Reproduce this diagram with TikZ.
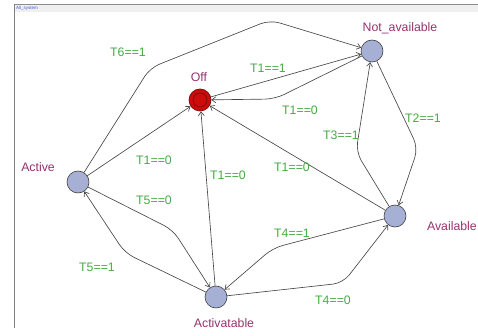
\documentclass[tikz,border=0pt]{standalone}
\usepackage{fontspec}
\setmainfont{Liberation Sans}
\usetikzlibrary{arrows.meta}
\definecolor{locfill}{RGB}{166,176,212}
\definecolor{locname}{RGB}{150,50,110}
\definecolor{guard}{RGB}{70,170,70}
\definecolor{offred}{RGB}{205,12,12}
\definecolor{offdark}{RGB}{120,10,10}
\definecolor{barblue}{RGB}{60,90,220}
\begin{document}
\begin{tikzpicture}[x=1pt,y=-1pt,
  loc/.style={circle,draw=black!75,fill=locfill,minimum size=22pt,inner sep=0pt,line width=0.6pt},
  offloc/.style={circle,draw=offdark,fill=offred,minimum size=22pt,inner sep=0pt,line width=0.7pt},
  lname/.style={text=locname,font=\fontsize{12.3}{14}\selectfont,inner sep=0pt},
  grd/.style={text=guard,font=\fontsize{12.3}{14}\selectfont,inner sep=0pt},
  edge/.style={draw=black!72,line width=0.65pt,rounded corners=10pt,-{Straight Barb[length=4pt,width=6pt]}}]
\useasboundingbox (0,0) rectangle (478,336);
% window frame
\fill[black!6] (14,4) rectangle (478,12);
\draw[black!45,line width=0.8pt] (14,4) -- (478,4);
\draw[black!50,line width=0.6pt] (14,4) -- (14,328);
\node[anchor=west,text=barblue,font=\fontsize{4.5}{5}\selectfont,inner sep=0pt] (title) at (16,8) {All\_system};
% locations
\node[offloc] (off) at (200,100) {};
\draw[offdark,line width=0.6pt] (off.center) circle[radius=7pt];
\node[loc] (notav) at (372,51) {};
\node[loc] (active) at (78,182) {};
\node[loc] (activ) at (216,297) {};
\node[loc] (avail) at (395,216) {};
% location names
\node[lname] (offn) at (199,77) {Off};
\node[lname] (notavn) at (400,28) {Not\_available};
\node[lname] (activen) at (38,167) {Active};
\node[lname] (activn) at (224,323) {Activatable};
\node[lname,anchor=east] (availn) at (477,226) {Available};
% edges
\draw[edge] (active) -- (150,68) -- (270,20) -- (notav);
\draw[edge] (off) -- (notav);
\draw[edge] (notav) -- (275,99) -- (off);
\draw[edge] (active) -- (off);
\draw[edge] (activ) -- (off);
\draw[edge] (avail) -- (off);
\draw[edge] (notav) -- (418,148) -- (avail);
\draw[edge] (avail) -- (356,152) -- (notav);
\draw[edge] (active) -- (173,230) -- (activ);
\draw[edge] (activ) -- (125,253) -- (active);
\draw[edge] (activ) -- (343,283) -- (avail);
\draw[edge] (avail) -- (273,248) -- (activ);
% guards
\node[grd] (g1) at (128,52) {T6==1};
\node[grd] (g2) at (268,68) {T1==1};
\node[grd] (g3) at (300,110) {T1==0};
\node[grd] (g4) at (423,118) {T2==1};
\node[grd] (g5) at (341,135) {T3==1};
\node[grd] (g6) at (154,160) {T1==0};
\node[grd] (g7) at (154,200) {T5==0};
\node[grd] (g8) at (97,267) {T5==1};
\node[grd] (g9) at (228,175) {T1==0};
\node[grd] (g10) at (292,167) {T1==0};
\node[grd] (g11) at (292,233) {T4==1};
\node[grd] (g12) at (333,300) {T4==0};
\end{tikzpicture}
\end{document}
